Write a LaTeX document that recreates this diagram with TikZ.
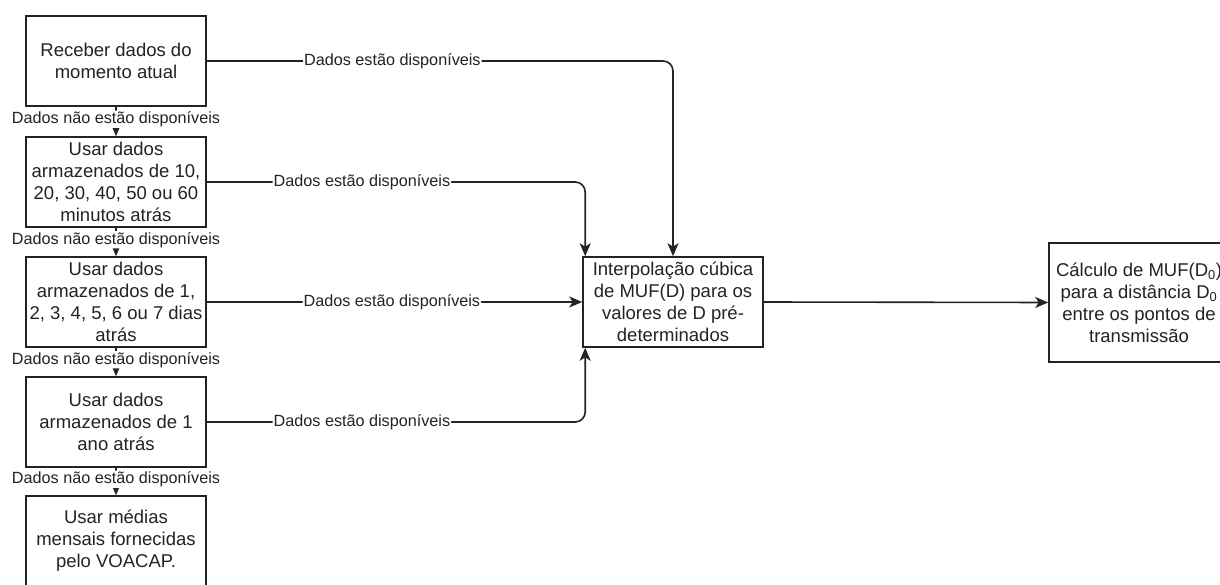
\documentclass[tikz,border=0pt]{standalone}
\usepackage{fontspec}
\setmainfont{Liberation Sans}
\usetikzlibrary{arrows.meta}
\definecolor{ink}{RGB}{35,35,35}
\tikzset{
  box/.style={draw=ink, line width=1.6pt, minimum width=180pt, minimum height=90pt, align=center, inner sep=0pt, text=ink, font=\fontsize{18.5}{22}\selectfont},
  conn/.style={draw=ink, line width=1.6pt, rounded corners=10pt, -{Stealth[length=13pt,width=11pt,inset=3.5pt]}},
  lbl/.style={fill=white, inner sep=1pt, text=ink, font=\fontsize{16.2}{18}\selectfont},
}
\begin{document}
\begin{tikzpicture}[x=1pt,y=-1pt]
\useasboundingbox (0,0) rectangle (1220,585);
\clip (0,0) rectangle (1220,585);
\fill[white] (0,0) rectangle (1220,585);
\node[box] (b1) at (116,61) {Receber dados do\\momento atual};
\node[box] (b2) at (116,182) {Usar dados\\armazenados de 10,\\20, 30, 40, 50 ou 60\\minutos atrás};
\node[box] (b3) at (116,302) {Usar dados\\armazenados de 1,\\2, 3, 4, 5, 6 ou 7 dias\\atrás};
\node[box] (b4) at (116,422) {Usar dados\\armazenados de 1\\ano atrás};
\node[box] (b5) at (116,541) {Usar médias\\mensais fornecidas\\pelo VOACAP.};
\node[box] (c) at (673,302) {Interpolação cúbica\\de MUF(D) para os\\valores de D pré-\\determinados};
\node[box, minimum height=119pt] (r) at (1139,302.5) {Cálculo de MUF(D\textsubscript{0})\\para a distância D\textsubscript{0}\\entre os pontos de\\transmissão};
% vertical fallbacks
\draw[conn] (b1.south) -- (b2.north) node[lbl, pos=0.42] {Dados não estão disponíveis};
\draw[conn] (b2.south) -- (b3.north) node[lbl, pos=0.42] {Dados não estão disponíveis};
\draw[conn] (b3.south) -- (b4.north) node[lbl, pos=0.42] {Dados não estão disponíveis};
\draw[conn] (b4.south) -- (b5.north) node[lbl, pos=0.42] {Dados não estão disponíveis};
% available
\draw[conn] (b1.east) -| (c.north) node[lbl, pos=0.199] {Dados estão disponíveis};
\draw[conn] (b2.east) -| ([xshift=3pt]c.north west) node[lbl, pos=0.205] {Dados estão disponíveis};
\draw[conn] (b3.east) -- (c.west) node[lbl, pos=0.493] {Dados estão disponíveis};
\draw[conn] (b4.east) -| ([xshift=3pt]c.south west) node[lbl, pos=0.205] {Dados estão disponíveis};
\draw[conn] (c.east) -- (r.west);
\end{tikzpicture}
\end{document}
